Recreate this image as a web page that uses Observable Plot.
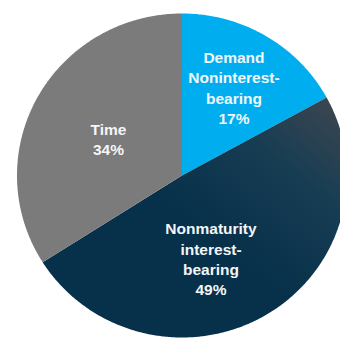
<!DOCTYPE html>
<html>
<head>
<meta charset="utf-8">
<script src="https://cdn.jsdelivr.net/npm/d3@7"></script>
<script src="https://cdn.jsdelivr.net/npm/@observablehq/plot@0.6"></script>
<style>
  html, body { margin: 0; padding: 0; background: #fff; overflow: hidden; }
  #chart { width: 340px; height: 339px; }
</style>
</head>
<body>
<div id="chart"></div>
<script>
// Deposit mix by type
const categories = ["Demand", "Nonmaturity", "Time"];
const labelNames = [
  ["Demand", "Noninterest-", "bearing"],
  ["Nonmaturity", "interest-", "bearing"],
  ["Time"]
];
const shares = [17, 49, 34];
const colors = ["#00aeef", "url(#nonmaturity-fill)", "#7b7b7b"];

// Pie geometry (in pixels) and label placement (angle in degrees clockwise from 12 o'clock, radius as a fraction)
const cx = 181.5, cy = 175, rx = 165, ry = 162;
const labelPlacement = {Demand: [30, 0.63], Nonmaturity: [161, 0.54], Time: [297, 0.5]};

const pie = d3.pie().sort(null).startAngle(0).endAngle(2 * Math.PI);
const arcs = pie(shares);

// Outline of each slice in unit coordinates: centre, then along the arc
const slicePoints = arcs.flatMap((a, i) => {
  const pts = [{category: categories[i], x: 0, y: 0}];
  const steps = Math.max(2, Math.ceil((a.endAngle - a.startAngle) / (Math.PI / 360)));
  for (let k = 0; k <= steps; ++k) {
    const t = a.startAngle + (a.endAngle - a.startAngle) * k / steps;
    pts.push({category: categories[i], x: Math.sin(t), y: Math.cos(t)});
  }
  return pts;
});

const labels = categories.map((c, i) => {
  const [deg, r] = labelPlacement[c];
  const t = deg * Math.PI / 180;
  return {x: r * Math.sin(t), y: r * Math.cos(t), text: [...labelNames[i], `${shares[i]}%`].join("\n")};
});

// Shaded fill for the large slice
const gradientDefs = () => {
  const defs = d3.create("svg:defs");
  const g = defs.append("linearGradient")
    .attr("id", "nonmaturity-fill")
    .attr("gradientUnits", "userSpaceOnUse")
    .attr("x1", 330).attr("y1", 95)
    .attr("x2", 215).attr("y2", 240);
  g.append("stop").attr("offset", "0%").attr("stop-color", "#3d4650");
  g.append("stop").attr("offset", "45%").attr("stop-color", "#173d53");
  g.append("stop").attr("offset", "100%").attr("stop-color", "#07304a");
  return defs.node();
};

const chart = Plot.plot({
  width: 340,
  height: 339,
  margin: 0,
  x: {domain: [-1, 1], range: [cx - rx, cx + rx], axis: null},
  y: {domain: [-1, 1], range: [cy + ry, cy - ry], axis: null},
  color: {domain: categories, range: colors},
  style: {background: "#fff", overflow: "hidden"},
  marks: [
    gradientDefs,
    Plot.line(slicePoints, {x: "x", y: "y", z: "category", fill: "category", stroke: "none"}),
    Plot.text(labels, {
      x: "x", y: "y", text: "text",
      fill: "#f3f6f8",
      fontSize: 15.5,
      fontWeight: "bold",
      fontFamily: "'Liberation Sans', Arial, sans-serif",
      lineHeight: 1.32,
      textAnchor: "middle"
    })
  ]
});
document.getElementById("chart").appendChild(chart);
</script>
</body>
</html>
